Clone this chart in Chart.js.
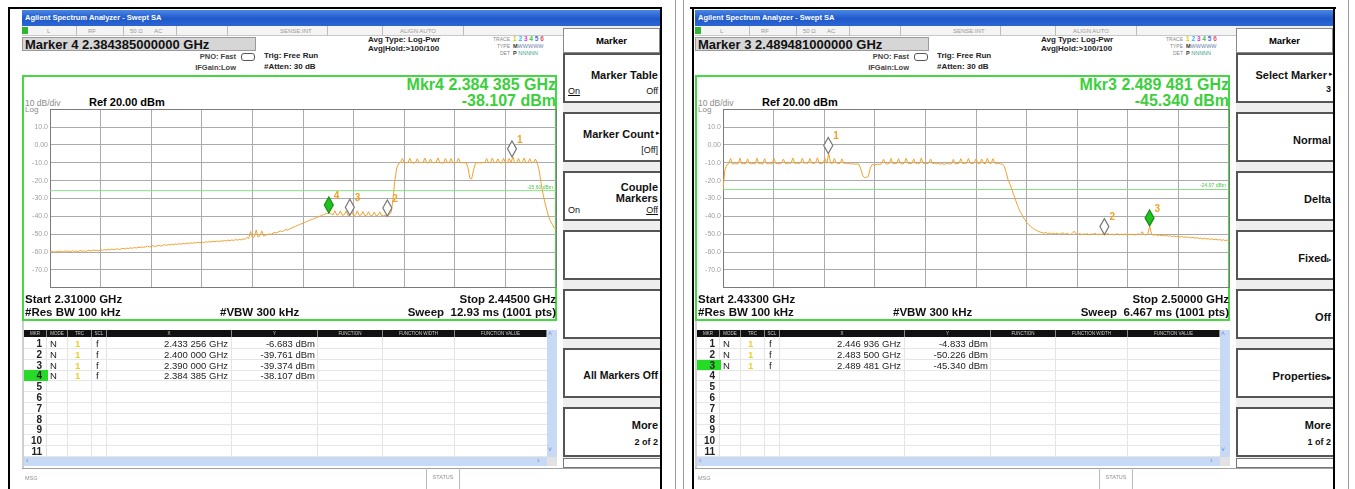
<!DOCTYPE html>
<html>
<head>
<meta charset="utf-8">
<script src="https://cdn.jsdelivr.net/npm/chart.js@4.4.1/dist/chart.umd.min.js"></script>
<style>
body { margin: 0; background: #fff; font-family: "Liberation Sans", Arial, sans-serif; }
#page { position: relative; width: 1355px; height: 489px; overflow: hidden; background: #fff; }
.ln { position: absolute; }
.panel { position: absolute; top: 0; width: 638px; height: 489px; }
.a { position: absolute; white-space: nowrap; }
.title { left: 0; top: 10px; width: 638px; height: 16px; background: linear-gradient(#4a86e6, #1f58c9 55%, #2d66d4); color: #fff; font-size: 7.5px; font-weight: bold; line-height: 16px; padding-left: 3px; box-sizing: border-box; }
.status { left: 0; top: 26px; width: 541px; height: 10px; background: #f4f4f4; border-bottom: 1px solid #c8c8c8; box-sizing: border-box; }
.st { top: 1px; font-size: 6px; color: #9a9a9a; line-height: 8px; }
.sep { top: 0; width: 1px; height: 10px; background: #bdbdbd; }
.mkbox { left: 0; top: 37px; width: 234px; height: 14px; background: #d6d6d6; border: 1px solid #9a9a9a; box-sizing: border-box; font-size: 13px; font-weight: bold; line-height: 13px; padding-left: 2px; color: #111; }
.sm { font-size: 7.5px; font-weight: bold; color: #444; line-height: 9px; }
.md { font-size: 8px; font-weight: bold; color: #222; line-height: 10px; }
.tiny { font-size: 5px; color: #888; line-height: 7px; }
.plot { left: 0; top: 75px; width: 535px; height: 246px; border: 2px solid #45d845; box-sizing: border-box; }
.mkr { right: 104px; font-size: 16px; font-weight: bold; color: #3ccf3c; line-height: 16px; }
.b11 { font-size: 11.5px; font-weight: bold; line-height: 12px; color: #111; }
.soft { left: 541px; top: 26px; width: 97px; height: 442px; background: #eeeeee; }
.khead { left: 541px; top: 28px; width: 97px; height: 25px; background: #fff; border: 1px solid #8a8a8a; box-sizing: border-box; text-align: center; font-size: 9.5px; font-weight: bold; line-height: 23px; }
.key { left: 541px; width: 97px; height: 50px; background: #fff; border: 2px solid #555; border-right: none; box-sizing: border-box; }
.kt { right: 2px; font-size: 11px; font-weight: bold; line-height: 12px; color: #111; }
.ks { font-size: 9px; line-height: 10px; color: #111; }
.th { top: 330px; height: 7px; background: #111; color: #ccc; font-size: 4.5px; line-height: 7px; text-align: center; border-right: 1px solid #888; box-sizing: border-box; }
.cell { font-size: 9.5px; line-height: 11px; color: #222; }
</style>
</head>
<body>
<div id="page">
  <div class="ln" style="left:8px;top:7px;width:654px;height:2px;background:#000"></div>
  <div class="ln" style="left:690px;top:7px;width:646px;height:2px;background:#000"></div>
  <div class="ln" style="left:8px;top:7px;width:2px;height:482px;background:#000"></div>
  <div class="ln" style="left:660px;top:7px;width:2px;height:482px;background:#000"></div>
  <div class="ln" style="left:675px;top:0;width:1px;height:489px;background:#9a9a9a"></div>
  <div class="ln" style="left:683px;top:0;width:1px;height:489px;background:#9a9a9a"></div>
  <div class="ln" style="left:692px;top:7px;width:2px;height:482px;background:#000"></div>
  <div class="ln" style="left:1333px;top:7px;width:2px;height:482px;background:#000"></div>
  <div class="ln" style="left:1348px;top:0;width:1px;height:489px;background:#9a9a9a"></div>
  <div class="panel" id="leftPanel" style="left:22px"></div>
  <div class="panel" id="rightPanel" style="left:695px"></div>
</div>
<script>
// screen 1: 2.310 - 2.445 GHz, one reading every 0.5 MHz
const leftStartGHz = 2.310;
const leftStopGHz = 2.445;
const leftStepGHz = 0.0005;
const leftLevels = [
  -59.8, -59.5, -60.1, -59.6, -59.9, -59.4, -59.7, -60.0, -59.3, -59.6,
  -59.5, -59.8, -59.2, -59.6, -59.4, -59.9, -59.1, -59.5, -59.3, -59.7,
  -59.2, -59.0, -59.4, -58.8, -59.1, -58.9, -59.3, -58.7, -59.0, -58.6,
  -58.9, -58.5, -58.8, -58.3, -58.7, -58.4, -58.1, -58.6, -58.2, -57.9,
  -58.3, -57.8, -58.0, -57.6, -57.9, -57.4, -57.8, -57.2, -57.5, -57.1,
  -57.4, -57.0, -56.6, -57.1, -56.8, -56.4, -56.9, -56.5, -56.2, -56.6,
  -56.3, -55.9, -56.2, -55.8, -56.0, -55.6, -55.9, -55.4, -55.7, -55.3,
  -55.6, -55.1, -55.4, -55.0, -55.3, -54.8, -55.1, -54.7, -54.9, -54.5,
  -54.8, -54.4, -54.7, -54.2, -54.5, -54.1, -54.4, -53.9, -54.2, -53.8,
  -54.1, -53.7, -53.9, -53.5, -53.8, -53.3, -53.6, -53.2, -53.5, -53.0,
  -53.3, -52.9, -53.2, -52.6, -52.9, -51.8, -52.4, -48.5, -52.0, -51.5,
  -47.6, -51.6, -50.9, -48.2, -51.0, -50.6, -50.2, -49.8, -50.1, -49.4,
  -49.0, -49.3, -48.6, -48.2, -48.5, -47.8, -47.4, -47.7, -46.9, -46.5,
  -46.0, -45.6, -45.1, -44.7, -44.2, -43.9, -43.3, -42.9, -42.4, -42.0,
  -41.7, -41.2, -40.8, -40.3, -39.9, -39.5, -39.0, -38.6, -38.4, -38.1,
  -38.6, -39.2, -36.8, -39.3, -39.0, -36.9, -39.4, -39.1, -37.0, -39.5,
  -39.4, -37.2, -39.6, -39.3, -36.9, -39.5, -39.2, -37.3, -39.6, -39.4,
  -37.4, -39.7, -39.5, -37.6, -39.7, -39.3, -37.5, -39.8, -39.6, -39.4,
  -39.8, -39.0, -38.0, -30.5, -20.0, -13.0, -10.5, -9.9, -7.6, -10.1,
  -9.8, -10.0, -7.5, -9.9, -10.2, -9.8, -7.8, -10.0, -9.7, -10.1,
  -7.4, -9.9, -10.2, -7.9, -9.8, -10.0, -9.7, -7.3, -10.1, -9.9,
  -10.2, -7.6, -9.8, -10.0, -7.7, -9.9, -10.1, -9.8, -7.5, -10.0,
  -9.9, -10.1, -9.8, -12.5, -18.5, -19.0, -14.0, -10.3, -10.0, -9.9,
  -10.1, -9.8, -10.0, -7.7, -9.9, -10.1, -7.4, -9.8, -10.0, -7.8,
  -9.9, -10.2, -7.5, -9.8, -10.0, -7.6, -9.9, -6.7, -10.1, -9.8,
  -7.6, -10.0, -9.8, -7.4, -10.1, -9.9, -7.7, -10.0, -9.8, -7.9,
  -10.2, -14.0, -21.0, -27.0, -32.0, -36.0, -40.0, -42.5, -44.5, -46.3, -47.5
];
const leftMarkerFreq = [2.433256, 2.400000, 2.390000, 2.384385];
const leftMarkerLevel = [-6.683, -39.761, -39.374, -38.107];
const leftDisplayLine = -25.6;

// screen 2: 2.433 - 2.500 GHz, one reading every 0.25 MHz
const rightStartGHz = 2.433;
const rightStopGHz = 2.500;
const rightStepGHz = 0.00025;
const rightLevels = [
  -25.0, -14.0, -11.2, -10.6, -7.6, -10.8, -10.4, -10.7,
  -10.5, -7.4, -10.7, -10.3, -10.6, -7.8, -10.4, -10.6,
  -10.3, -10.7, -7.5, -10.5, -10.4, -10.8, -7.7, -10.3,
  -10.6, -10.4, -10.7, -7.6, -10.5, -10.3, -10.6, -10.2,
  -7.9, -10.4, -10.6, -10.1, -10.3, -7.3, -10.4, -10.2,
  -10.5, -10.1, -7.5, -10.3, -10.0, -10.4, -7.6, -10.2,
  -10.4, -10.1, -7.2, -10.3, -10.5, -10.2, -7.7, -10.3,
  -4.8, -10.2, -10.4, -7.6, -10.1, -10.5, -10.3, -7.8,
  -10.4, -10.2, -10.6, -10.3, -10.7, -10.5, -10.8, -10.6,
  -10.9, -13.5, -17.2, -18.3, -18.1, -17.6, -13.0, -11.0,
  -11.2, -11.0, -10.8, -10.9, -10.6, -8.0, -10.5, -10.7,
  -10.4, -7.6, -10.6, -10.3, -10.5, -7.7, -10.4, -10.6,
  -10.2, -7.5, -10.5, -10.3, -10.6, -7.8, -10.4, -10.2,
  -10.5, -7.4, -10.3, -10.6, -10.4, -10.2, -7.9, -10.5,
  -10.3, -10.6, -10.4, -10.7, -10.5, -10.8, -10.6, -10.4,
  -10.7, -10.5, -8.1, -10.6, -10.4, -10.3, -7.7, -10.5,
  -10.2, -10.4, -7.6, -10.3, -10.5, -10.1, -7.8, -10.4,
  -10.6, -7.9, -10.3, -10.5, -7.5, -10.2, -10.4, -7.7,
  -10.3, -10.5, -10.2, -10.6, -10.8, -12.0, -15.5, -19.5,
  -22.0, -25.0, -28.0, -31.0, -34.0, -36.5, -38.5, -40.4,
  -42.0, -43.5, -44.6, -45.8, -46.6, -47.3, -47.9, -48.4,
  -48.8, -49.1, -49.4, -49.0, -49.6, -49.3, -49.8, -49.5,
  -49.9, -49.4, -50.1, -49.7, -49.2, -50.0, -49.6, -49.9,
  -50.2, -49.5, -48.3, -49.8, -50.1, -49.6, -50.3, -49.9,
  -50.0, -49.7, -50.4, -49.8, -50.1, -49.5, -50.2, -49.9,
  -50.3, -49.8, -50.2, -50.0, -49.6, -50.3, -49.9, -50.4,
  -50.1, -49.7, -50.4, -49.9, -50.2, -49.8, -50.5, -50.0,
  -50.3, -49.9, -50.5, -50.1, -49.8, -50.4, -48.6, -50.2,
  -50.4, -49.9, -45.3, -50.1, -50.5, -50.2, -50.7, -50.4,
  -50.8, -50.5, -51.0, -50.7, -51.1, -50.9, -51.3, -51.0,
  -51.4, -51.1, -51.6, -51.3, -51.7, -51.5, -51.9, -51.6,
  -52.0, -51.8, -52.2, -51.9, -52.4, -52.1, -52.6, -52.3,
  -52.7, -52.5, -52.9, -52.6, -53.1, -52.8, -53.2, -53.0,
  -53.4, -53.1, -53.6, -53.3, -53.6
];
const rightMarkerFreq = [2.446936, 2.483500, 2.489481];
const rightMarkerLevel = [-4.833, -50.226, -45.340];
const rightDisplayLine = -24.97;

// Ref 20.00 dBm, 10 dB/div
const yMin = -80, yMax = 20;
const yTickLabels = ['', '10.0', '0.00', '-10.0', '-20.0', '-30.0', '-40.0', '-50.0', '-60.0', '-70.0', ''];

const markerPlugin = {
    id: 'markers',
    afterDatasetsDraw(chart, args, opts) {
        const { ctx, chartArea } = chart;
        const x = chart.scales.x, y = chart.scales.y;
        ctx.save();
        // display line readout
        ctx.font = '5px "Liberation Sans", Arial';
        ctx.fillStyle = '#4cc84c';
        ctx.textAlign = 'right';
        ctx.textBaseline = 'bottom';
        ctx.fillText(opts.dlText, chartArea.right - 3, y.getPixelForValue(opts.dl) - 1);

        opts.freq.forEach((f, k) => {
            const px = x.getPixelForValue(f);
            const py = y.getPixelForValue(opts.level[k]);
            const on = k + 1 === opts.active;
            ctx.beginPath();
            ctx.moveTo(px, py);
            ctx.lineTo(px + 4.5, py - 8);
            ctx.lineTo(px, py - 16);
            ctx.lineTo(px - 4.5, py - 8);
            ctx.closePath();
            ctx.fillStyle = on ? '#1fc21f' : '#ffffff';
            ctx.fill();
            ctx.lineWidth = 1.2;
            ctx.strokeStyle = on ? '#178f17' : '#777777';
            ctx.stroke();
            ctx.font = 'bold 10px "Liberation Sans", Arial';
            ctx.fillStyle = '#f0a228';
            ctx.textAlign = 'left';
            ctx.textBaseline = 'middle';
            ctx.fillText(String(k + 1), px + 5, py - 17);
        });
        ctx.restore();
    }
};

function drawSpectrum(canvas, p) {
    const trace = p.levels.map((v, i) => ({ x: p.start + i * p.step, y: v }));
    const edge = c => (c.index === 0 || c.index === 10) ? '#7b7b7b' : '#ababab';
    return new Chart(canvas, {
        type: 'line',
        data: {
            datasets: [
                { data: trace, borderColor: '#f2a12e', borderWidth: 1, pointRadius: 0, tension: 0 },
                { data: [{ x: p.start, y: p.dl }, { x: p.stop, y: p.dl }], borderColor: '#86e486', borderWidth: 1, pointRadius: 0 }
            ]
        },
        options: {
            responsive: false,
            animation: false,
            devicePixelRatio: 1,
            layout: { padding: { top: 6, right: 1, bottom: 3, left: 0 } },
            plugins: {
                legend: { display: false },
                tooltip: { enabled: false },
                markers: { freq: p.markerFreq, level: p.markerLevel, active: p.active, dl: p.dl, dlText: p.dlText }
            },
            scales: {
                x: {
                    type: 'linear', min: p.start, max: p.stop,
                    afterBuildTicks: s => { s.ticks = yTickLabels.map((_, k) => ({ value: p.start + k * (p.stop - p.start) / 10 })); },
                    afterFit: s => { s.height = 0; },
                    ticks: { display: false },
                    grid: { color: edge, drawTicks: false },
                    border: { color: '#7b7b7b' }
                },
                y: {
                    min: yMin, max: yMax,
                    afterFit: s => { s.width = 26; },
                    ticks: {
                        stepSize: 10, padding: 2, color: '#a0a0a0',
                        font: { size: 7, family: '"Liberation Sans", Arial' },
                        callback: v => yTickLabels[Math.round((yMax - v) / 10)]
                    },
                    grid: { color: edge, drawTicks: false },
                    border: { color: '#7b7b7b' }
                }
            }
        },
        plugins: [markerPlugin]
    });
}

function ghz(f) {
    const s = f.toFixed(6);
    return s.slice(0, 5) + ' ' + s.slice(5);
}

function statusRow() {
    return `<div class="a status">
      <div class="a" style="left:0;top:1px;width:6px;height:7px;background:#2fb52f"></div>
      <div class="a st" style="left:25px">L</div>
      <div class="a sep" style="left:54px"></div>
      <div class="a st" style="left:66px">RF</div>
      <div class="a sep" style="left:101px"></div>
      <div class="a st" style="left:108px">50 Ω</div>
      <div class="a st" style="left:132px">AC</div>
      <div class="a sep" style="left:154px"></div>
      <div class="a sep" style="left:205px"></div>
      <div class="a st" style="left:258px">SENSE:INT</div>
      <div class="a sep" style="left:305px"></div>
      <div class="a sep" style="left:360px"></div>
      <div class="a st" style="left:378px">ALIGN AUTO</div>
      <div class="a sep" style="left:441px"></div>
    </div>`;
}

function traceBlock() {
    const c = ['#e0c800', '#20c4e6', '#d840d8', '#3cc03c', '#4a6af0', '#e0506a'];
    const digits = c.map((col, k) => `<span style="color:${col}">${k + 1}</span>`).join(' ');
    return `
      <div class="a tiny" style="right:150px;top:36px">TRACE</div>
      <div class="a" style="left:491px;top:35px;font-size:6.5px;line-height:8px;font-weight:bold">${digits}</div>
      <div class="a tiny" style="right:150px;top:43px">TYPE</div>
      <div class="a" style="left:491px;top:43px;font-size:5.5px;line-height:7px;color:#6a7fa8"><b style="color:#333">M</b>WWWWW</div>
      <div class="a tiny" style="right:150px;top:50px">DET</div>
      <div class="a" style="left:491px;top:50px;font-size:5.5px;line-height:7px;color:#3aa88a"><b style="color:#333">P</b> NNNNN</div>`;
}

function markerTable(p) {
    const edges = [2, 25, 46, 70, 85, 210, 296, 361, 433, 525];
    const names = ['MKR', 'MODE', 'TRC', 'SCL', 'X', 'Y', 'FUNCTION', 'FUNCTION WIDTH', 'FUNCTION VALUE'];
    const h = [];
    h.push(`<div class="a" style="left:0;top:321px;width:535px;height:147px;background:#fff;border-left:2px solid #cfcfcf;box-sizing:border-box"></div>`);
    names.forEach((n, i) => {
        h.push(`<div class="a th" style="left:${edges[i]}px;width:${edges[i + 1] - edges[i]}px">${n}</div>`);
        if (i > 0) h.push(`<div class="a" style="left:${edges[i] - 1}px;top:337px;width:1px;height:120px;background:#e4e4e4"></div>`);
    });
    for (let r = 0; r < 11; r++) {
        const top = 338 + r * 10.8;
        h.push(`<div class="a" style="left:2px;top:${top + 10}px;width:523px;height:1px;background:#e6e6e6"></div>`);
        if (r + 1 === p.active) h.push(`<div class="a" style="left:2px;top:${top}px;width:24px;height:10.5px;background:#25db25"></div>`);
        h.push(`<div class="a cell" style="left:2px;top:${top}px;width:18px;text-align:right;font-weight:bold;font-size:10px">${r + 1}</div>`);
        if (r < p.markerFreq.length) {
            h.push(`<div class="a cell" style="left:28px;top:${top}px">N</div>`);
            h.push(`<div class="a cell" style="left:53px;top:${top}px;color:#e8d230;font-weight:bold">1</div>`);
            h.push(`<div class="a cell" style="left:74px;top:${top}px">f</div>`);
            h.push(`<div class="a cell" style="right:${638 - 206}px;top:${top}px">${ghz(p.markerFreq[r])} GHz</div>`);
            h.push(`<div class="a cell" style="right:${638 - 293}px;top:${top}px">${p.markerLevel[r].toFixed(3)} dBm</div>`);
        }
    }
    // scroll bars
    h.push(`<div class="a" style="left:525px;top:330px;width:10px;height:127px;background:#c8d9f5"></div>`);
    h.push(`<div class="a" style="left:526px;top:330px;font-size:7px;color:#6f8fc9">˄</div>`);
    h.push(`<div class="a" style="left:526px;top:446px;font-size:7px;color:#6f8fc9">˅</div>`);
    h.push(`<div class="a" style="left:2px;top:457px;width:523px;height:9px;background:#c8d9f5"></div>`);
    h.push(`<div class="a" style="left:4px;top:456px;font-size:8px;line-height:10px;color:#6f8fc9">‹</div>`);
    h.push(`<div class="a" style="left:515px;top:456px;font-size:8px;line-height:10px;color:#6f8fc9">›</div>`);
    h.push(`<div class="a" style="left:525px;top:457px;width:10px;height:9px;background:#e2e2e2"></div>`);
    return h.join('');
}

function buildPanel(el, p) {
    const m = p.active - 1;
    const keys = p.keys.map((k, i) => `<div class="a key" style="top:${53 + i * 59}px">${k}</div>`).join('');
    el.innerHTML = `
      <div class="a title">Agilent Spectrum Analyzer - Swept SA</div>
      ${statusRow()}
      <div class="a mkbox">Marker ${p.active} ${p.markerFreq[m].toFixed(12)} GHz</div>
      <div class="a sm" style="right:424px;top:52px">PNO: Fast</div>
      <div class="a" style="left:219px;top:53px;width:12px;height:6px;border:1px solid #555;border-radius:3px"></div>
      <div class="a sm" style="right:424px;top:63px">IFGain:Low</div>
      <div class="a md" style="left:242px;top:51px">Trig: Free Run</div>
      <div class="a md" style="left:242px;top:62px">#Atten: 30 dB</div>
      <div class="a md" style="left:346px;top:35px">Avg Type: Log-Pwr</div>
      <div class="a md" style="left:346px;top:44px">Avg|Hold:&gt;100/100</div>
      ${traceBlock()}
      <div class="a plot"></div>
      <div class="a mkr" style="top:77px">Mkr${p.active} ${ghz(p.markerFreq[m])} GHz</div>
      <div class="a mkr" style="top:93px">${p.markerLevel[m].toFixed(3)} dBm</div>
      <div class="a" style="left:3px;top:98px;font-size:8.5px;color:#8a8a8a;line-height:10px">10 dB/div</div>
      <div class="a" style="left:67px;top:96px;font-size:11px;font-weight:bold;line-height:12px">Ref 20.00 dBm</div>
      <div class="a" style="left:3px;top:105px;font-size:8px;color:#8a8a8a;line-height:9px">Log</div>
      <canvas class="a" width="533" height="191" style="left:2px;top:103px"></canvas>
      <div class="a b11" style="left:3px;top:293px">Start ${p.start.toFixed(5)} GHz</div>
      <div class="a b11" style="left:3px;top:306px">#Res BW 100 kHz</div>
      <div class="a b11" style="left:198px;top:306px">#VBW 300 kHz</div>
      <div class="a b11" style="right:104px;top:293px">Stop ${p.stop.toFixed(5)} GHz</div>
      <div class="a b11" style="right:104px;top:306px">${p.sweep}</div>
      ${markerTable(p)}
      <div class="a soft"></div>
      <div class="a khead">Marker</div>
      ${keys}
      <div class="a" style="left:541px;top:458px;width:97px;height:10px;background:#fff;border:1px solid #777;border-right:none;box-sizing:border-box"></div>
      <div class="a" style="left:0;top:468px;width:638px;height:21px;background:#fff;border-top:1px solid #a0a0a0;box-sizing:border-box"></div>
      <div class="a" style="left:3px;top:475px;font-size:5.5px;color:#909090">MSG</div>
      <div class="a" style="left:404px;top:468px;width:34px;height:21px;border-left:1px solid #bbb;border-right:1px solid #bbb;box-sizing:border-box;text-align:center;font-size:5.5px;line-height:18px;color:#909090">STATUS</div>`;
    drawSpectrum(el.querySelector('canvas'), p);
}

buildPanel(document.getElementById('leftPanel'), {
    start: leftStartGHz, stop: leftStopGHz, step: leftStepGHz, levels: leftLevels,
    markerFreq: leftMarkerFreq, markerLevel: leftMarkerLevel, active: 4,
    dl: leftDisplayLine, dlText: '-25.60 dBm',
    sweep: 'Sweep&nbsp;&nbsp;12.93 ms (1001 pts)',
    keys: [
        '<div class="a kt" style="top:14px">Marker Table</div><div class="a ks" style="left:3px;top:31px"><u>On</u></div><div class="a ks" style="right:2px;top:31px">Off</div>',
        '<div class="a kt" style="top:14px;right:6px">Marker Count</div><div class="a" style="right:0;top:15px;font-size:7px">▸</div><div class="a ks" style="right:2px;top:31px">[Off]</div>',
        '<div class="a kt" style="top:8px">Couple</div><div class="a kt" style="top:19px">Markers</div><div class="a ks" style="left:3px;top:32px">On</div><div class="a ks" style="right:2px;top:32px"><u>Off</u></div>',
        '',
        '',
        '<div class="a kt" style="top:19px;font-size:10.5px">All Markers Off</div>',
        '<div class="a kt" style="top:10px">More</div><div class="a ks" style="right:2px;top:28px;font-weight:bold">2 of 2</div>'
    ]
});

buildPanel(document.getElementById('rightPanel'), {
    start: rightStartGHz, stop: rightStopGHz, step: rightStepGHz, levels: rightLevels,
    markerFreq: rightMarkerFreq, markerLevel: rightMarkerLevel, active: 3,
    dl: rightDisplayLine, dlText: '-24.97 dBm',
    sweep: 'Sweep&nbsp;&nbsp;6.467 ms (1001 pts)',
    keys: [
        '<div class="a kt" style="top:14px;right:6px">Select Marker</div><div class="a" style="right:0;top:15px;font-size:7px">▸</div><div class="a ks" style="right:2px;top:29px;font-weight:bold">3</div>',
        '<div class="a kt" style="top:20px">Normal</div>',
        '<div class="a kt" style="top:20px">Delta</div>',
        '<div class="a kt" style="top:20px">Fixed<span style="font-size:8px">▹</span></div>',
        '<div class="a kt" style="top:20px">Off</div>',
        '<div class="a kt" style="top:20px">Properties<span style="font-size:8px">▸</span></div>',
        '<div class="a kt" style="top:10px">More</div><div class="a ks" style="right:2px;top:28px;font-weight:bold">1 of 2</div>'
    ]
});
</script>
</body>
</html>
